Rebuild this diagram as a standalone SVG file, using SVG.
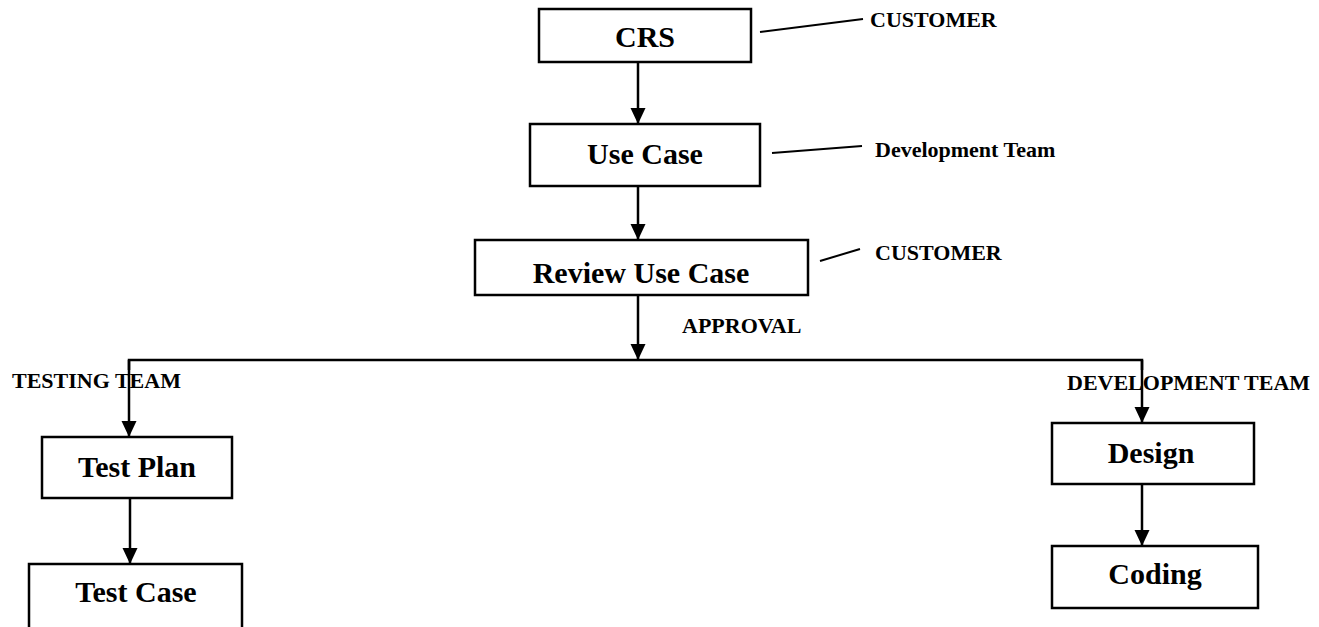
<svg xmlns="http://www.w3.org/2000/svg" width="1319" height="627" viewBox="0 0 1319 627">
<defs>
<style>
.box{fill:#fff;stroke:#000;stroke-width:2.5}
.lbl{font-family:"Liberation Serif","Times New Roman",serif;font-weight:bold;font-size:30px;text-anchor:middle;fill:#000}
.cap{font-family:"Liberation Serif","Times New Roman",serif;font-weight:bold;font-size:22px;fill:#000}
.ln{stroke:#000;stroke-width:2;fill:none}
.ar{stroke:#000;stroke-width:2.5;fill:none;marker-end:url(#ah)}
</style>
<marker id="ah" markerUnits="userSpaceOnUse" markerWidth="16" markerHeight="16" viewBox="0 0 16 16" refX="16" refY="8" orient="auto">
<path d="M0,0.5 L16,8 L0,15.5 Z" fill="#000"/>
</marker>
</defs>
<rect width="1319" height="627" fill="#fff"/>
<g id="connectors">
<line class="ar" x1="638" y1="62" x2="638" y2="124"/>
<line class="ar" x1="638" y1="186" x2="638" y2="240"/>
<line class="ar" x1="638" y1="295" x2="638" y2="360"/>
<polyline class="ln" points="129,370 129,360 1142,360 1142,370" style="stroke-width:2.5"/>
<line class="ar" x1="129" y1="360" x2="129" y2="437"/>
<line class="ar" x1="1142" y1="360" x2="1142" y2="423"/>
<line class="ar" x1="130" y1="498" x2="130" y2="564"/>
<line class="ar" x1="1142" y1="484" x2="1142" y2="546"/>
<line class="ln" x1="760" y1="32" x2="863" y2="19"/>
<line class="ln" x1="772" y1="153" x2="862" y2="146"/>
<line class="ln" x1="820" y1="261" x2="860" y2="249"/>
</g>
<g id="crs"><rect class="box" x="539" y="9" width="212" height="53"/><text class="lbl" x="645" y="47">CRS</text></g>
<g id="usecase"><rect class="box" x="530" y="124" width="230" height="62"/><text class="lbl" x="645" y="164">Use Case</text></g>
<g id="review"><rect class="box" x="475" y="240" width="333" height="55"/><text class="lbl" x="641" y="283">Review Use Case</text></g>
<g id="testplan"><rect class="box" x="42" y="437" width="190" height="61"/><text class="lbl" x="137" y="477">Test Plan</text></g>
<g id="testcase"><rect class="box" x="29" y="564" width="213" height="70"/><text class="lbl" x="136" y="602">Test Case</text></g>
<g id="design"><rect class="box" x="1052" y="423" width="202" height="61"/><text class="lbl" x="1151" y="463">Design</text></g>
<g id="coding"><rect class="box" x="1052" y="546" width="206" height="62"/><text class="lbl" x="1155" y="584">Coding</text></g>
<g id="captions">
<text class="cap" x="870" y="27">CUSTOMER</text>
<text class="cap" x="875" y="157">Development Team</text>
<text class="cap" x="875" y="260">CUSTOMER</text>
<text class="cap" x="682" y="333">APPROVAL</text>
<text class="cap" x="12" y="388">TESTING TEAM</text>
<text class="cap" x="1067" y="390">DEVELOPMENT TEAM</text>
</g>
</svg>
